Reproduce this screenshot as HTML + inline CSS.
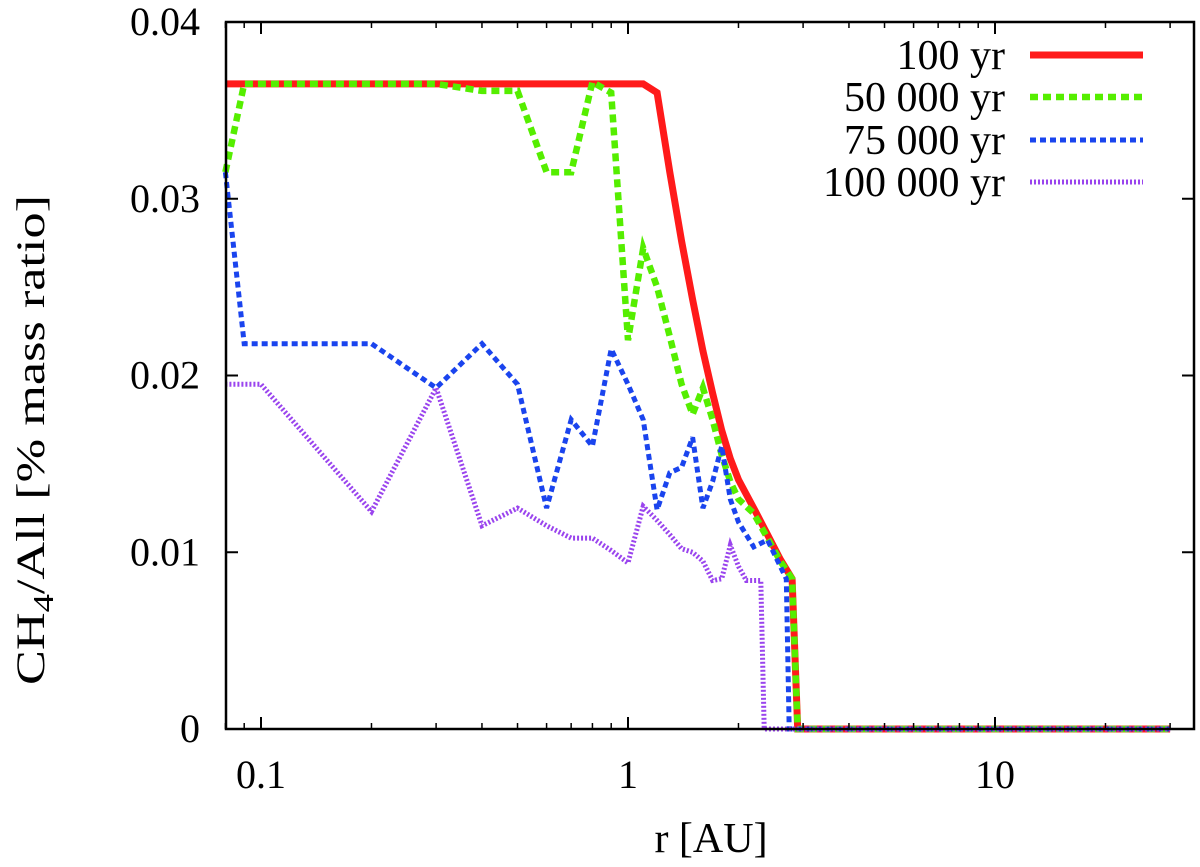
<!DOCTYPE html>
<html><head><meta charset="utf-8"><style>
body{margin:0;background:#fff;}
text{font-family:"Liberation Serif","Times New Roman",serif;fill:#000;}
</style></head><body>
<svg id="chart" width="1200" height="862" xmlns="http://www.w3.org/2000/svg" font-family="Liberation Serif, serif">
<g id="marks"></g>
<g id="axes"></g>
<g id="legend"></g>
</svg>
<script>
const xRed=[0.08,0.09,0.1,0.2,0.3,0.4,0.5,0.6,0.7,0.8,0.9,1.0,1.1,1.2,1.3,1.4,1.5,1.6,1.7,1.8,1.9,2.0,2.2,2.4,2.6,2.8,2.9,30];
const yRed=[0.0365,0.0365,0.0365,0.0365,0.0365,0.0365,0.0365,0.0365,0.0365,0.0365,0.0365,0.0365,0.0365,0.036,0.0315,0.0276,0.0243,0.0214,0.019,0.0169,0.0153,0.0141,0.0125,0.011,0.0096,0.0085,0,0];
const xGreen=[0.08,0.09,0.1,0.2,0.3,0.4,0.5,0.6,0.7,0.8,0.9,1.0,1.1,1.2,1.3,1.4,1.5,1.6,1.7,1.8,1.9,2.0,2.2,2.4,2.6,2.8,2.9,30];
const yGreen=[0.0315,0.0365,0.0365,0.0365,0.0365,0.0361,0.0361,0.0315,0.0315,0.0366,0.036,0.022,0.0272,0.025,0.0222,0.0195,0.0178,0.0193,0.0175,0.0155,0.014,0.013,0.0122,0.0108,0.0095,0.0085,0,0];
const xBlue=[0.08,0.09,0.1,0.2,0.3,0.4,0.5,0.6,0.7,0.8,0.9,1.0,1.1,1.2,1.3,1.4,1.5,1.6,1.7,1.8,1.9,2.0,2.2,2.4,2.7,2.75,30];
const yBlue=[0.0315,0.0218,0.0218,0.0218,0.0193,0.0218,0.0195,0.0125,0.0175,0.016,0.0215,0.0195,0.0175,0.0124,0.0145,0.0148,0.0165,0.0125,0.014,0.016,0.013,0.0117,0.0103,0.0107,0.0085,0,0];
const xPurple=[0.08,0.1,0.2,0.3,0.4,0.5,0.6,0.7,0.8,0.9,1.0,1.1,1.2,1.3,1.4,1.5,1.6,1.7,1.8,1.9,2.0,2.1,2.3,2.35,30];
const yPurple=[0.0195,0.0195,0.0123,0.0193,0.0115,0.0125,0.0115,0.0108,0.0108,0.0101,0.0094,0.0126,0.0118,0.011,0.0102,0.01,0.0095,0.0084,0.0085,0.0104,0.0092,0.0084,0.0084,0,0];
const yTicks=[0,0.01,0.02,0.03,0.04];
const yTickLabels=["0","0.01","0.02","0.03","0.04"];
const xMajor=[0.1,1,10];
const xMajorLabels=["0.1","1","10"];
const xMinor=[0.08,0.09,0.2,0.3,0.4,0.5,0.6,0.7,0.8,0.9,2,3,4,5,6,7,8,9,20,30];
const seriesNames=["100 yr","50 000 yr","75 000 yr","100 000 yr"];

const L=226,R=1194,T=22,B=729;
function xs(v){return 628+367*Math.log10(v);}
function ys(v){return B-(v/0.04)*(B-T);}
const NS="http://www.w3.org/2000/svg";
const FF="Liberation Serif, Times New Roman, serif";
function mk(tag,attrs,parent){const e=document.createElementNS(NS,tag);for(const k in attrs)e.setAttribute(k,attrs[k]);parent.appendChild(e);return e;}
const marks=document.getElementById('marks'),axes=document.getElementById('axes'),legend=document.getElementById('legend');
const styles=[
 {c:"#ff1a1a",w:7,d:""},
 {c:"#55ee00",w:6.5,d:"8 5"},
 {c:"#1a44ee",w:5,d:"6 4"},
 {c:"#9a44ee",w:5,d:"2 2"}];
const sx=[xRed,xGreen,xBlue,xPurple],sy=[yRed,yGreen,yBlue,yPurple];
const snames=['series-100yr','series-50000yr','series-75000yr','series-100000yr'];
for(let i=0;i<4;i++){
 const pts=sx[i].map((x,j)=>xs(x).toFixed(1)+","+ys(sy[i][j]).toFixed(1)).join(" ");
 const p=mk('polyline',{points:pts,fill:"none",stroke:styles[i].c,"stroke-width":styles[i].w,"stroke-dasharray":styles[i].d,"stroke-linejoin":"miter"},marks);
 
 
}
const fr=mk('rect',{x:L,y:T,width:R-L,height:B-T,fill:"none",stroke:"#000","stroke-width":2.5},axes);


yTicks.forEach((v,i)=>{
 const y=ys(v);
 mk('line',{x1:L,x2:L+12,y1:y,y2:y,stroke:"#000","stroke-width":2},axes);
 mk('line',{x1:R-12,x2:R,y1:y,y2:y,stroke:"#000","stroke-width":2},axes);
 const t=mk('text',{x:200,y:y+13,"text-anchor":"end","font-size":40,"font-family":FF},axes);
 t.textContent=yTickLabels[i];
 
 
});
xMajor.forEach((v,i)=>{
 const x=xs(v);
 mk('line',{x1:x,x2:x,y1:B,y2:B-12,stroke:"#000","stroke-width":2},axes);
 mk('line',{x1:x,x2:x,y1:T,y2:T+12,stroke:"#000","stroke-width":2},axes);
 const t=mk('text',{x:x,y:788,"text-anchor":"middle","font-size":40,"font-family":FF},axes);
 t.textContent=xMajorLabels[i];
 
 
});
xMinor.forEach(v=>{
 const x=xs(v);
 mk('line',{x1:x,x2:x,y1:B,y2:B-6,stroke:"#000","stroke-width":1.5},axes);
 mk('line',{x1:x,x2:x,y1:T,y2:T+6,stroke:"#000","stroke-width":1.5},axes);
});
const xt=mk('text',{x:711,y:852,"text-anchor":"middle","font-size":42,"font-family":FF},axes);
xt.textContent="r [AU]";


const yt=mk('text',{x:0,y:0,"text-anchor":"middle","font-size":40,"font-family":FF,transform:"translate(44,440) rotate(-90)",textLength:490,lengthAdjust:"spacingAndGlyphs"},axes);
yt.innerHTML='CH<tspan dy="9" font-size="28">4</tspan><tspan dy="-9">/All [% mass ratio]</tspan>';


const ly=[55,97,140,182];
for(let i=0;i<4;i++){
 const g=mk('g',{},legend);
 
 
 const t=mk('text',{x:1005,y:ly[i]+14,"text-anchor":"end","font-size":42,"font-family":FF},g);
 t.textContent=seriesNames[i];
 mk('line',{x1:1030,x2:1143,y1:ly[i],y2:ly[i],stroke:styles[i].c,"stroke-width":styles[i].w,"stroke-dasharray":styles[i].d},g);
}
</script>
</body></html>
